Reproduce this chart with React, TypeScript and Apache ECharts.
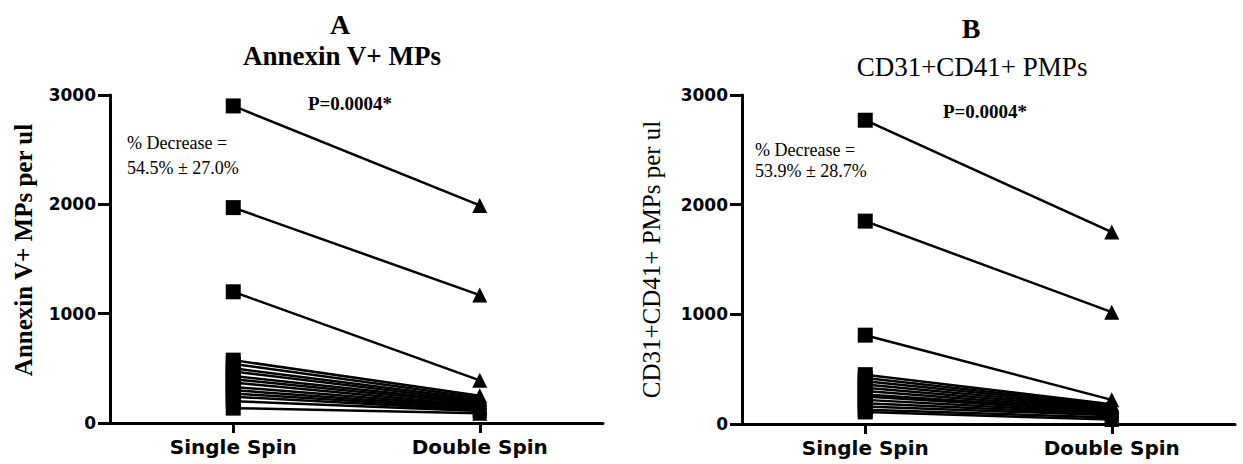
import React, { useEffect, useRef } from 'react';
import * as echarts from 'echarts';

// Preparation method on the x axis
const spinGroups = ['Single Spin', 'Double Spin'];

// Per-subject counts (per ul), same order in the paired arrays
const annexinSingle = [2900, 1970, 1200, 575, 540, 500, 470, 430, 400, 370, 330, 300, 270, 240, 200, 136];
const annexinDouble = [1990, 1170, 390, 250, 230, 215, 200, 190, 175, 160, 150, 140, 130, 120, 110, 90];

const pmpSingle = [2770, 1850, 810, 450, 420, 390, 360, 330, 300, 270, 250, 220, 190, 160, 130, 110];
const pmpDouble = [1750, 1020, 220, 180, 170, 160, 150, 140, 130, 120, 110, 100, 90, 80, 60, 40];

const yMin = 0;
const yMax = 3000;
const yStep = 1000;

const SERIF = '"Liberation Serif", "Times New Roman", serif';
const WIDE_SANS = '"DejaVu Sans", Verdana, sans-serif';

function pairedSeries(single: number[], dbl: number[], axisIndex: number) {
  return single.map((s, i) => ({
    type: 'line',
    xAxisIndex: axisIndex,
    yAxisIndex: axisIndex,
    silent: true,
    symbolSize: 15,
    lineStyle: { color: '#000', width: 2.5 },
    itemStyle: { color: '#000' },
    data: [
      { value: s, symbol: 'rect' },
      { value: dbl[i], symbol: 'triangle' },
    ],
  }));
}

function yAxisFor(gridIndex: number, name: string, bold: boolean, gap: number, shift: number) {
  return {
    type: 'value',
    gridIndex,
    min: yMin,
    max: yMax,
    interval: yStep,
    name,
    nameLocation: 'middle',
    nameGap: gap,
    nameTextStyle: {
      fontFamily: SERIF,
      fontWeight: bold ? 'bold' : 'normal',
      fontSize: 25,
      color: '#000',
      padding: [0, 0, 0, shift],
    },
    axisLine: { show: true, lineStyle: { color: '#000', width: 3 } },
    axisTick: { show: true, length: 12, lineStyle: { color: '#000', width: 3 } },
    axisLabel: {
      fontFamily: WIDE_SANS,
      fontWeight: 'bold',
      fontSize: 17,
      color: '#000',
      margin: 14,
      formatter: (v: number) => String(v),
    },
    splitLine: { show: false },
  };
}

function xAxisFor(gridIndex: number) {
  return {
    type: 'category',
    gridIndex,
    data: spinGroups,
    boundaryGap: true,
    axisLine: { show: true, lineStyle: { color: '#000', width: 3 } },
    axisTick: { show: true, alignWithLabel: true, length: 10, lineStyle: { color: '#000', width: 3 } },
    axisLabel: { fontFamily: WIDE_SANS, fontWeight: 'bold', fontSize: 20, color: '#000', margin: 14 },
    splitLine: { show: false },
  };
}

function label(text: string, x: number, y: number, size: number, bold: boolean, align: string) {
  return {
    type: 'text',
    x,
    y,
    silent: true,
    style: {
      text,
      fill: '#000',
      fontFamily: SERIF,
      fontSize: size,
      fontWeight: bold ? 'bold' : 'normal',
      align,
      textAlign: align,
      verticalAlign: 'middle',
      textVerticalAlign: 'middle',
    },
  };
}

export default function App() {
  const ref = useRef<HTMLDivElement>(null);

  useEffect(() => {
    document.body.style.margin = '0';
    if (!ref.current) return;
    const chart = echarts.init(ref.current, null, { renderer: 'svg' });
    chart.setOption({
      animation: false,
      backgroundColor: '#fff',
      grid: [
        { left: 110, top: 95, width: 493, height: 328 },
        { left: 742, top: 95, width: 493, height: 329 },
      ],
      xAxis: [xAxisFor(0), xAxisFor(1)],
      yAxis: [
        yAxisFor(0, 'Annexin V+ MPs per ul', true, 74, 18),
        yAxisFor(1, 'CD31+CD41+ PMPs per ul', false, 78, 0),
      ],
      series: [...pairedSeries(annexinSingle, annexinDouble, 0), ...pairedSeries(pmpSingle, pmpDouble, 1)],
      graphic: [
        label('A', 340, 24, 28, true, 'center'),
        label('Annexin V+ MPs', 342, 56, 27, true, 'center'),
        label('P=0.0004*', 350, 103, 19, true, 'center'),
        label('% Decrease =', 127, 143, 18, false, 'left'),
        label('54.5% \u00b1 27.0%', 127, 168, 18, false, 'left'),
        label('B', 971, 28, 28, true, 'center'),
        label('CD31+CD41+ PMPs', 972, 67, 27, false, 'center'),
        label('P=0.0004*', 985, 111, 19, true, 'center'),
        label('% Decrease =', 755, 150, 18, false, 'left'),
        label('53.9% \u00b1 28.7%', 755, 171, 18, false, 'left'),
      ],
    });
    return () => chart.dispose();
  }, []);

  return <div ref={ref} style={{ width: 1243, height: 464 }} />;
}
